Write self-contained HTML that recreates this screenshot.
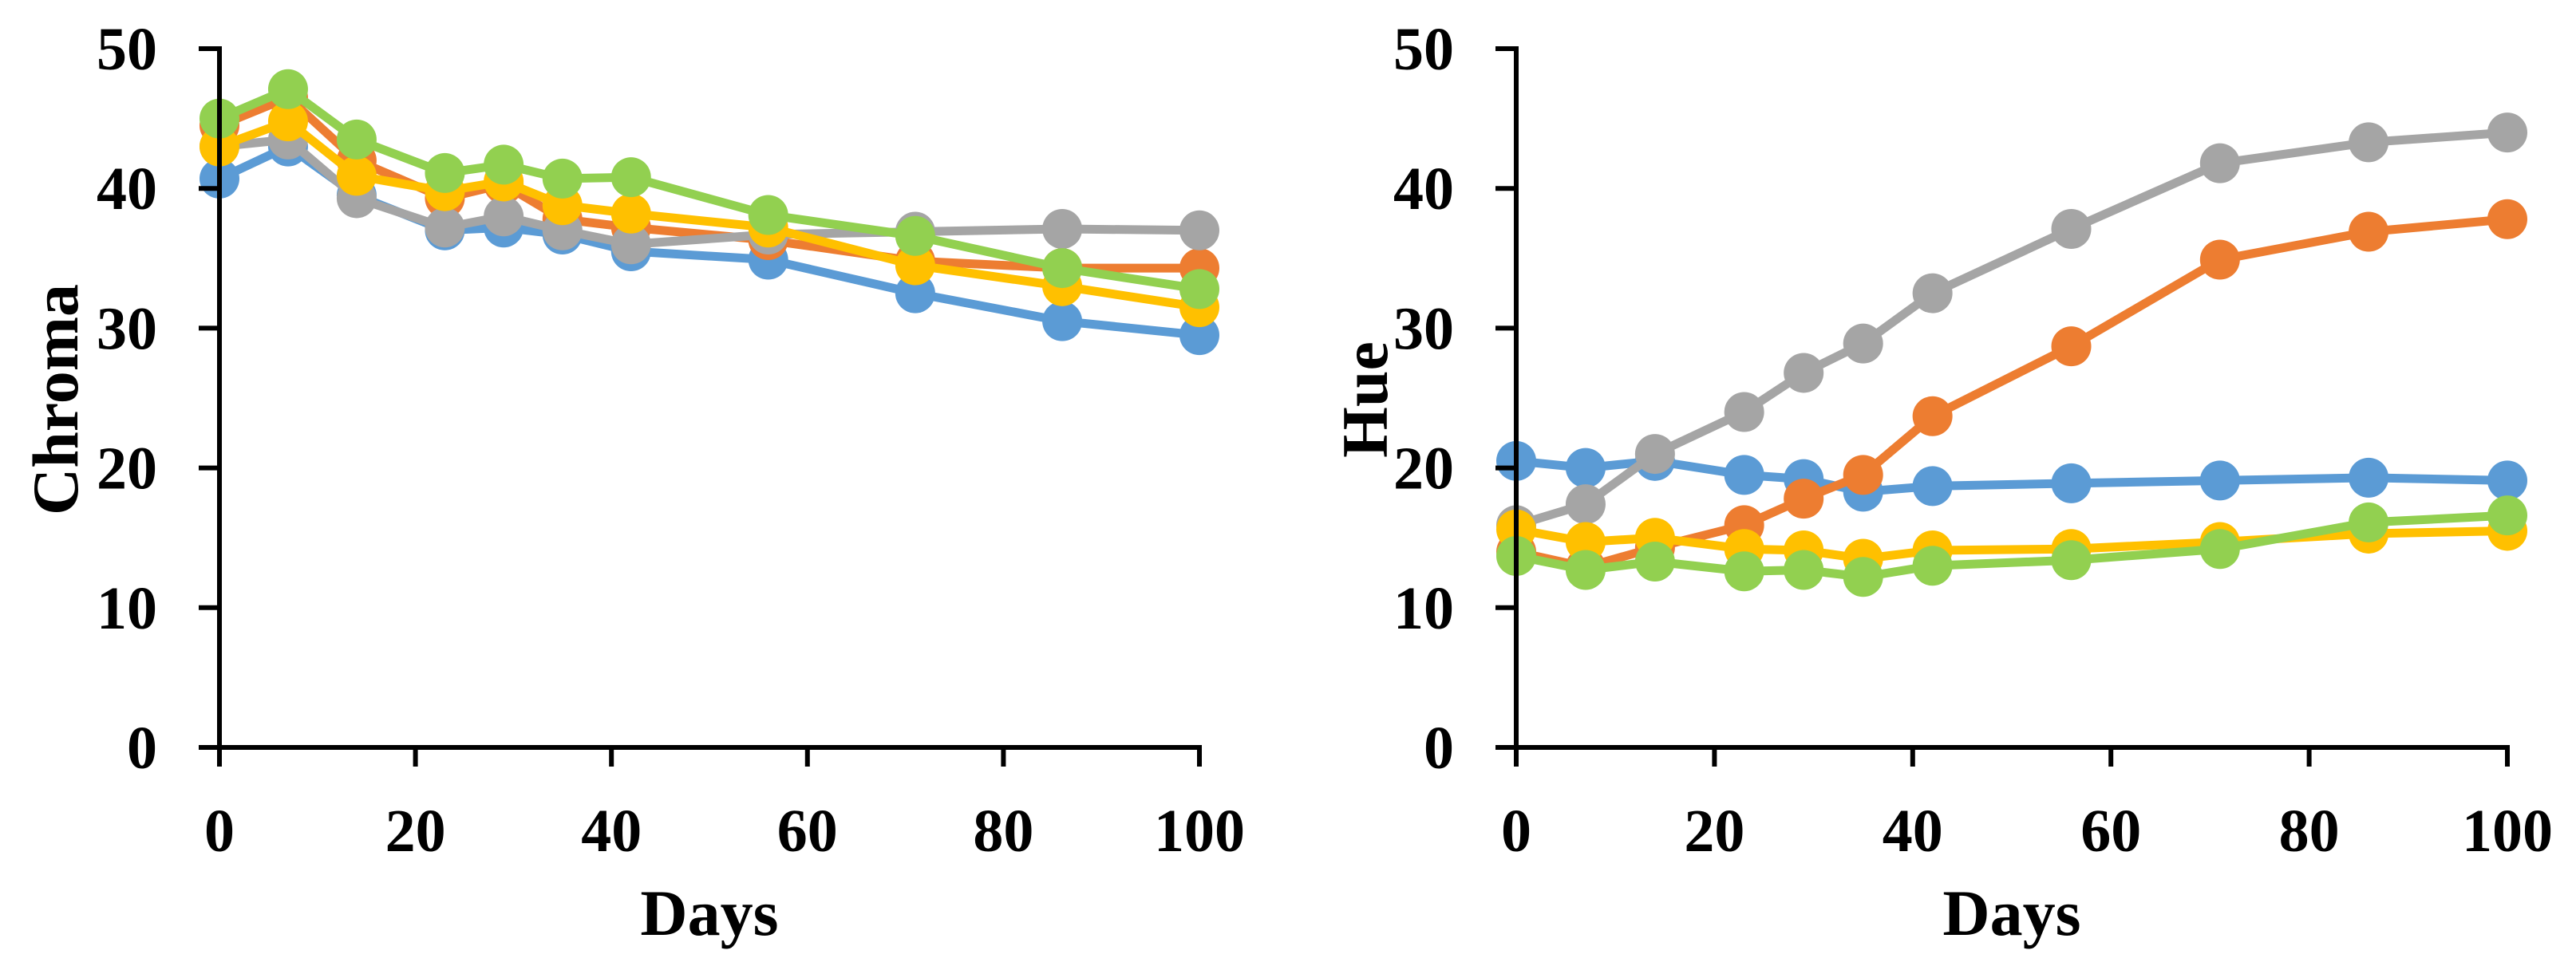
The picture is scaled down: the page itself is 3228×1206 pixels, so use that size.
<!DOCTYPE html>
<html><head><meta charset="utf-8"><style>
html,body{margin:0;padding:0;background:#fff;}
svg{display:block;}
text{font-family:"Liberation Serif",serif;font-weight:bold;fill:#000;}
</style></head><body>
<svg id="c" width="3228" height="1206" viewBox="0 0 3228 1206" xmlns="http://www.w3.org/2000/svg"></svg>
<script>
const days = [0,7,14,23,29,35,42,56,71,86,100];
const seriesColors = ["#5B9BD5","#ED7D31","#A5A5A5","#FFC000","#92D050"];
const seriesNames = ["blue","orange","gray","yellow","green"];
const chromaBlue   = [40.7,43.0,39.5,37.0,37.2,36.7,35.5,34.9,32.5,30.5,29.5];
const chromaOrange = [44.5,46.5,42.0,39.3,40.3,37.8,37.2,36.3,34.8,34.3,34.3];
const chromaGray   = [43.0,43.5,39.3,37.2,38.0,37.0,36.0,36.7,36.9,37.1,37.0];
const chromaYellow = [43.0,44.8,40.9,39.8,40.5,38.8,38.2,37.2,34.5,33.0,31.5];
const chromaGreen  = [45.0,47.1,43.5,41.1,41.7,40.7,40.8,38.1,36.6,34.3,32.8];
const hueBlue   = [20.5,20.0,20.5,19.5,19.2,18.3,18.7,18.9,19.1,19.3,19.1];
const hueOrange = [14.0,12.9,14.3,15.9,17.8,19.5,23.7,28.7,34.9,36.9,37.8];
const hueGray   = [15.9,17.4,21.0,24.0,26.8,28.9,32.5,37.1,41.8,43.3,44.0];
const hueYellow = [15.6,14.7,15.0,14.2,14.1,13.5,14.1,14.2,14.7,15.3,15.5];
const hueGreen  = [13.7,12.7,13.3,12.6,12.7,12.2,13.0,13.4,14.2,16.1,16.6];
const yTicks = [0,10,20,30,40,50];
const xTicks = [0,20,40,60,80,100];

const NS="http://www.w3.org/2000/svg";
const svg=document.getElementById('c');
function mk(tag,attrs,parent){const e=document.createElementNS(NS,tag);for(const k in attrs)e.setAttribute(k,attrs[k]);(parent||svg).appendChild(e);return e;}

function chart(id,x0,x1,yTitle,titleX,series){
  const y0=937,y50=61;
  const g=mk('g',{});
  
  
  const sx=v=>x0+(x1-x0)*v/100;
  const sy=v=>y0-(y0-y50)*v/50;
  series.forEach((vals,si)=>{
    const sg=mk('g',{},g);
    
    
    const pts=vals.map((v,i)=>sx(days[i])+','+sy(v)).join(' ');
    const pl=mk('polyline',{points:pts,fill:'none',stroke:seriesColors[si],'stroke-width':11,'stroke-linejoin':'round'},sg);
    
    
    vals.forEach((v,i)=>{
      const c=mk('circle',{cx:sx(days[i]),cy:sy(v),r:25,fill:seriesColors[si]},sg);
      
      
    });
  });
  const ya=mk('line',{x1:x0,y1:y50-3,x2:x0,y2:y0+24,stroke:'#000','stroke-width':6},g);
  
  
  const xa=mk('line',{x1:x0-26,y1:y0,x2:x1+3,y2:y0,stroke:'#000','stroke-width':6},g);
  
  
  yTicks.forEach(t=>{
    const l=mk('line',{x1:x0-26,y1:sy(t),x2:x0,y2:sy(t),stroke:'#000','stroke-width':6},g);
    
    
    const tx=mk('text',{x:x0-78,y:sy(t)+26,'text-anchor':'end','font-size':76},g);
    tx.textContent=t;
    
    
  });
  xTicks.forEach(t=>{
    const l=mk('line',{x1:sx(t),y1:y0,x2:sx(t),y2:y0+24,stroke:'#000','stroke-width':6},g);
    
    
    const tx=mk('text',{x:sx(t),y:1067,'text-anchor':'middle','font-size':76},g);
    tx.textContent=t;
    
    
  });
  const xt=mk('text',{x:(x0+x1)/2,y:1172,'text-anchor':'middle','font-size':82},g);
  xt.textContent='Days';
  
  
  const yt=mk('text',{x:0,y:0,'text-anchor':'middle','font-size':82,transform:'translate('+titleX+',501) rotate(-90)'},g);
  yt.textContent=yTitle;
  
  
}
chart('chroma',275,1503,'Chroma',97,[chromaBlue,chromaOrange,chromaGray,chromaYellow,chromaGreen]);
chart('hue',1900,3142,'Hue',1738,[hueBlue,hueOrange,hueGray,hueYellow,hueGreen]);
</script>
</body></html>
